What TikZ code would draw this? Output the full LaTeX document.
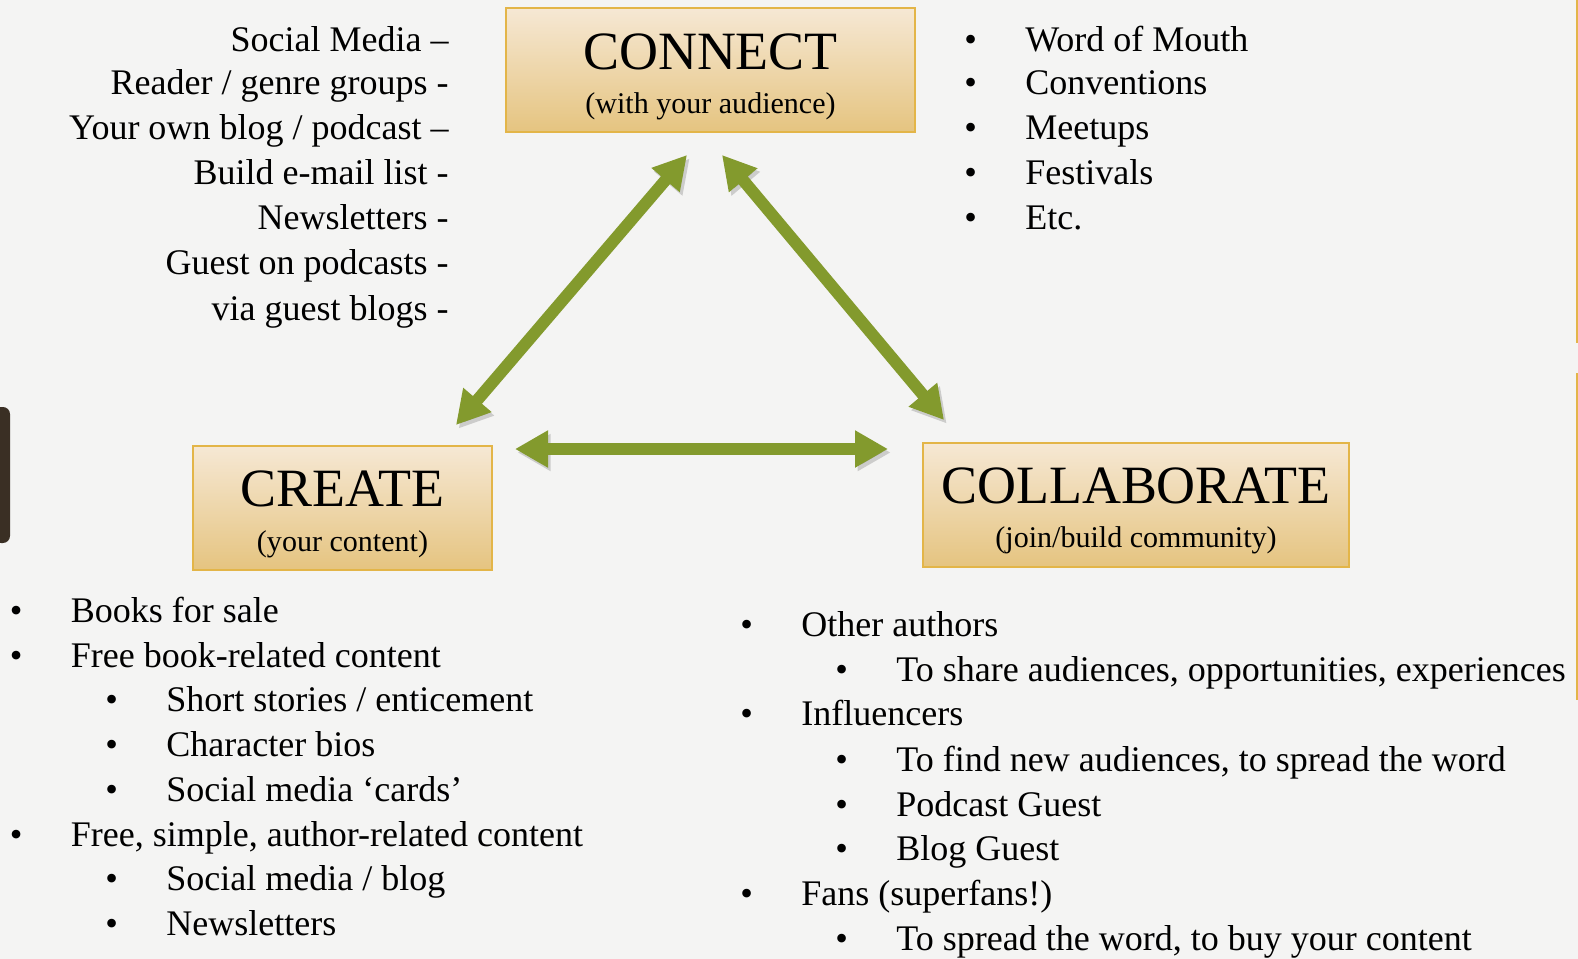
\documentclass[tikz,border=0pt]{standalone}
\usepackage{fontspec}
\setmainfont{Liberation Serif}
\usetikzlibrary{calc,arrows.meta}

\definecolor{paper}{RGB}{244,244,243}
\definecolor{leafgreen}{RGB}{131,154,45}
\definecolor{boxtop}{RGB}{246,232,212}
\definecolor{boxbottom}{RGB}{229,196,128}
\definecolor{boxedge}{RGB}{227,181,72}
\definecolor{barbrown}{RGB}{58,47,36}

\newcommand{\itembul}{\makebox[34.7pt][l]{•}}

\begin{document}
\begin{tikzpicture}[
        x=0.02cm, y=-0.02cm,
        box/.style={
            rectangle,
            draw=boxedge,
            line width=1.2pt,
            top color=boxtop,
            bottom color=boxbottom,
            minimum height=2.48cm,
            inner sep=0pt,
            outer sep=0pt
        },
        title/.style={anchor=base, inner sep=0pt, font=\fontsize{30.7}{36}\selectfont},
        subtitle/.style={anchor=base, inner sep=0pt, font=\fontsize{17.1}{20}\selectfont},
        sidetext/.style={anchor=base east, inner sep=0pt, font=\fontsize{20.5}{25}\selectfont},
        item/.style={anchor=base west, inner sep=0pt, font=\fontsize{20.5}{25}\selectfont},
        arrow/.style={
            {Triangle[length=18.8pt,width=19.9pt]}-{Triangle[length=18.8pt,width=19.9pt]},
            line width=6.8pt,
            draw=leafgreen,
            preaction={draw=black, opacity=0.16, transform canvas={shift={(1.5pt,-2pt)}}}
        }
    ]

        \useasboundingbox (0,0) rectangle (1578,959);
        \fill[paper] (0,0) rectangle (1578,959);

        % page edges
        \fill[barbrown, rounded corners=4pt] (-6,407) rectangle (10,543);
        \draw[boxedge, line width=1pt] (1577,0) -- (1577,343);
        \draw[boxedge, line width=1pt] (1577,373) -- (1577,700);

        % Main boxes
        \node[box, minimum width=8.18cm] (connect) at (710.5,70) {};
        \node[title] (connecttitle) at ($(connect.north)+(0,61)$) {CONNECT};
        \node[subtitle] (connectsub) at ($(connect.north)+(0,105)$) {(with your audience)};

        \node[box, minimum width=5.98cm] (create) at (342.5,508) {};
        \node[title] (createtitle) at ($(create.north)+(0,60)$) {CREATE};
        \node[subtitle] (createsub) at ($(create.north)+(0,105)$) {(your content)};

        \node[box, minimum width=8.52cm] (collab) at (1136,505) {};
        \node[title] (collabtitle) at ($(collab.north)+(0,60)$) {COLLABORATE};
        \node[subtitle] (collabsub) at ($(collab.north)+(0,104)$) {(join/build community)};

        % Arrows between boxes
        \draw[arrow] ($(connect.south)+(-23.5,23)$) -- ($(create.north east)+(-36,-21)$);
        \draw[arrow] ($(connect.south)+(11.5,23)$) -- ($(collab.north west)+(21,-23)$);
        \draw[arrow] ($(create.north east)+(23,3)$) -- ($(collab.north west)+(-35,6)$);

        % Connect: channels
        \node[sidetext] (social) at (449,52) {Social Media –};
        \node[sidetext] (reader) at (449,95) {Reader / genre groups -};
        \node[sidetext] (ownblog) at (449,140) {Your own blog / podcast –};
        \node[sidetext] (email) at (449,185) {Build e-mail list -};
        \node[sidetext] (newsl) at (449,230) {Newsletters -};
        \node[sidetext] (guestpod) at (449,275) {Guest on podcasts -};
        \node[sidetext] (guestblog) at (449,320) {via guest blogs -};

        % Connect: in person
        \node[item] (mouth) at (964,52) {\itembul Word of Mouth};
        \node[item] (conv) at (964,95) {\itembul Conventions};
        \node[item] (meet) at (964,140) {\itembul Meetups};
        \node[item] (fest) at (964,185) {\itembul Festivals};
        \node[item] (etc) at (964,230) {\itembul Etc.};

        % Create list
        \node[item] (books) at (9.5,622) {\itembul Books for sale};
        \node[item] (freebook) at (9.5,667) {\itembul Free book-related content};
        \node[item] (stories) at (105,711) {\itembul Short stories / enticement};
        \node[item] (bios) at (105,756) {\itembul Character bios};
        \node[item] (cards) at (105,801) {\itembul Social media ‘cards’};
        \node[item] (freeauthor) at (9.5,846) {\itembul Free, simple, author-related content};
        \node[item] (mediablog) at (105,890) {\itembul Social media / blog};
        \node[item] (letters) at (105,935) {\itembul Newsletters};

        % Collaborate list
        \node[item] (authors) at (740,636) {\itembul Other authors};
        \node[item] (share) at (835,681) {\itembul To share audiences, opportunities, experiences};
        \node[item] (influ) at (740,725) {\itembul Influencers};
        \node[item] (find) at (835,771) {\itembul To find new audiences, to spread the word};
        \node[item] (podguest) at (835,816) {\itembul Podcast Guest};
        \node[item] (blogguest) at (835,860) {\itembul Blog Guest};
        \node[item] (fans) at (740,905) {\itembul Fans (superfans!)};
        \node[item] (spread) at (835,950) {\itembul To spread the word, to buy your content};

    \end{tikzpicture}
\end{document}
